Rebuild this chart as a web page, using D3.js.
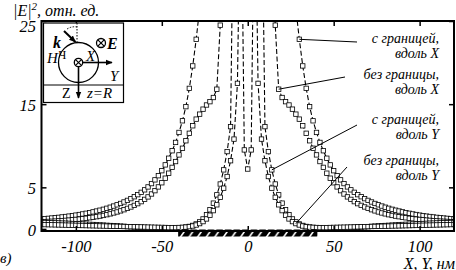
<!DOCTYPE html>
<html>
<head>
<meta charset="utf-8">
<script src="https://cdn.jsdelivr.net/npm/d3@7"></script>
<style>
  html, body { margin: 0; padding: 0; background: #fff; }
  svg { display: block; font-family: "Liberation Serif", "DejaVu Serif", serif; }
</style>
</head>
<body>
<div id="chart"></div>
<script>
// sample positions, nm
const xs = [-120,-118,-116,-114,-112,-110,-108,-106,-104,-102,-100,-98,-96,-94,-92,-90,-88,-86,-84,-82,
  -80,-78,-76,-74,-72,-70,-68,-66,-64,-62,-60,-58,-56,-54,-52,-50,-48,-46,-44,-42,
  -40,-38,-36,-34,-32,-30,-28,-26,-24,-22,-20,-18,-16,-14,-12,-10,-8,-6,-4,-2,
  0,2,4,6,8,10,12,14,16,18,20,22,24,26,28,30,32,34,36,38,
  40,42,44,46,48,50,52,54,56,58,60,62,64,66,68,70,72,74,76,78,
  80,82,84,86,88,90,92,94,96,98,100,102,104,106,108,110,112,114,116,118,120];

// |E|^2 with boundary, along X
const borderX = [1.2,1.23,1.27,1.31,1.35,1.39,1.44,1.49,1.54,1.6,1.66,1.73,1.8,1.88,1.96,2.05,2.15,2.25,2.36,2.48,
  2.61,2.75,2.9,3.06,3.24,3.43,3.64,3.87,4.12,4.4,4.7,5.05,5.45,5.9,6.4,7.0,7.7,8.5,9.4,10.4,
  11.6,13.0,14.7,16.9,19.6,22.8,26.5,31,36,42,48,54,58,60,60,60,60,60,60,60,
  60,60,60,60,60,60,60,60,58,54,48,42,36,31,26.5,22.8,19.6,16.9,14.7,13.0,
  11.6,10.4,9.4,8.5,7.7,7.0,6.4,5.9,5.45,5.05,4.7,4.4,4.12,3.87,3.64,3.43,3.24,3.06,2.9,2.75,
  2.61,2.48,2.36,2.25,2.15,2.05,1.96,1.88,1.8,1.73,1.66,1.6,1.54,1.49,1.44,1.39,1.35,1.31,1.27,1.23,1.2];

// without boundary, along X
const freeX = [0.86,0.88,0.9,0.92,0.94,0.97,1.0,1.03,1.06,1.1,1.14,1.18,1.23,1.28,1.34,1.4,1.47,1.54,1.62,1.71,
  1.81,1.92,2.04,2.17,2.31,2.47,2.64,2.83,3.04,3.28,3.55,3.85,4.2,4.6,5.05,5.55,6.1,6.7,7.4,8.1,
  8.9,9.7,10.6,11.5,12.4,13.2,13.8,14.4,14.9,15.3,15.8,16.8,24.5,36,60,60,60,60,60,60,
  60,60,60,60,60,60,60,36,24.5,16.8,15.8,15.3,14.9,14.4,13.8,13.2,12.4,11.5,10.6,9.7,
  8.9,8.1,7.4,6.7,6.1,5.55,5.05,4.6,4.2,3.85,3.55,3.28,3.04,2.83,2.64,2.47,2.31,2.17,2.04,1.92,
  1.81,1.71,1.62,1.54,1.47,1.4,1.34,1.28,1.23,1.18,1.14,1.1,1.06,1.03,1.0,0.97,0.94,0.92,0.9,0.88,0.86];

// with boundary, along Y
const borderY = [0.78,0.77,0.76,0.75,0.73,0.72,0.7,0.69,0.67,0.65,0.63,0.61,0.59,0.57,0.55,0.53,0.5,0.48,0.46,0.43,
  0.41,0.38,0.36,0.33,0.31,0.28,0.26,0.23,0.21,0.19,0.17,0.15,0.13,0.12,0.11,0.1,0.1,0.1,0.11,0.12,
  0.14,0.17,0.22,0.3,0.42,0.6,0.85,1.2,1.7,2.3,3.1,4.1,5.4,7.1,9.3,12.3,45,60,45,9.5,
  7.2,9.5,45,60,45,12.3,9.3,7.1,5.4,4.1,3.1,2.3,1.7,1.2,0.85,0.6,0.42,0.3,0.22,0.17,
  0.14,0.12,0.11,0.1,0.1,0.1,0.11,0.12,0.13,0.15,0.17,0.19,0.21,0.23,0.26,0.28,0.31,0.33,0.36,0.38,
  0.41,0.43,0.46,0.48,0.5,0.53,0.55,0.57,0.59,0.61,0.63,0.65,0.67,0.69,0.7,0.72,0.73,0.75,0.76,0.77,0.78];

// without boundary, along Y
const freeY = [0.53,0.52,0.51,0.5,0.49,0.48,0.47,0.46,0.45,0.44,0.43,0.42,0.41,0.4,0.39,0.38,0.37,0.36,0.35,0.34,
  0.33,0.32,0.31,0.3,0.29,0.28,0.27,0.26,0.25,0.24,0.23,0.22,0.21,0.2,0.19,0.18,0.17,0.16,0.16,0.16,
  0.17,0.19,0.22,0.27,0.35,0.47,0.64,0.88,1.2,1.65,2.2,2.9,3.8,4.9,6.3,8.2,10.8,17.5,45,60,
  60,60,45,17.5,10.8,8.2,6.3,4.9,3.8,2.9,2.2,1.65,1.2,0.88,0.64,0.47,0.35,0.27,0.22,0.19,
  0.17,0.16,0.16,0.16,0.17,0.18,0.19,0.2,0.21,0.22,0.23,0.24,0.25,0.26,0.27,0.28,0.29,0.3,0.31,0.32,
  0.33,0.34,0.35,0.36,0.37,0.38,0.39,0.4,0.41,0.42,0.43,0.44,0.45,0.46,0.47,0.48,0.49,0.5,0.51,0.52,0.53];

const xTicks = [-100, -50, 0, 50, 100];
const yTicks = [0, 5, 15, 25];
const substrate = [-40.5, 40.5];

// callouts: label lines, series, sample x where the leader touches
const callouts = [
  { lines: ["с границей,", "вдоль X"], series: borderX, at: 30, tx: 439, ty: 43, lx: 357, ly: 42 },
  { lines: ["без границы,", "вдоль X"], series: freeX, at: 18, tx: 439, ty: 79, lx: 345, ly: 77 },
  { lines: ["с границей,", "вдоль Y"], series: borderY, at: 14, tx: 439, ty: 124, lx: 357, ly: 125 },
  { lines: ["без границы,", "вдоль Y"], series: freeY, at: 28, tx: 439, ty: 165, lx: 347, ly: 167 }
];

[borderX, freeX, borderY, freeY].forEach((s, i) => {
  if (s.length !== xs.length) console.error("series", i, "length", s.length);
});

const width = 456, height = 270;
const plot = { left: 41.5, right: 454, top: 21, bottom: 231 };

const x = d3.scaleLinear().domain([-120, 120]).range([plot.left, plot.right]);
const y = d3.scaleLinear().domain([-0.25, 25]).range([plot.bottom, plot.top]);

const svg = d3.select("#chart").append("svg")
  .attr("width", width)
  .attr("height", height);

const defs = svg.append("defs");
defs.append("clipPath").attr("id", "plotClip")
  .append("rect")
  .attr("x", plot.left).attr("y", plot.top)
  .attr("width", plot.right - plot.left).attr("height", plot.bottom - plot.top);

const hatch = defs.append("pattern")
  .attr("id", "hatch")
  .attr("patternUnits", "userSpaceOnUse")
  .attr("x", x(substrate[0]))
  .attr("width", 8.6).attr("height", 7);
hatch.append("rect").attr("width", 8.6).attr("height", 7).attr("fill", "#000");
hatch.append("line")
  .attr("x1", 2).attr("y1", 6.5).attr("x2", 6.2).attr("y2", 0.5)
  .attr("stroke", "#fff").attr("stroke-width", 1.5);

// curves
const curves = svg.append("g").attr("clip-path", "url(#plotClip)");
const line = d3.line().x((d, i) => x(xs[i])).y(d => y(d));

[borderX, freeX, borderY, freeY].forEach(series => {
  curves.append("path")
    .datum(series)
    .attr("d", line)
    .attr("fill", "none")
    .attr("stroke", "#000")
    .attr("stroke-width", 1.1)
    .attr("stroke-dasharray", "5,2.5");
});

[borderX, freeX, borderY, freeY].forEach(series => {
  curves.append("g")
    .selectAll("rect")
    .data(series.map((v, i) => [xs[i], v]).filter(d => d[1] < 27))
    .enter().append("rect")
    .attr("x", d => x(d[0]) - 2.2)
    .attr("y", d => y(d[1]) - 2.2)
    .attr("width", 4.4)
    .attr("height", 4.4)
    .attr("fill", "#fff")
    .attr("stroke", "#000")
    .attr("stroke-width", 0.8);
});

// axes with inward ticks
const xAxis = svg.append("g")
  .attr("transform", `translate(0,${plot.bottom})`)
  .call(d3.axisBottom(x).tickValues(xTicks).tickSizeInner(-5).tickSizeOuter(0).tickPadding(9)
    .tickFormat(d => d < 0 ? "-" + Math.abs(d) : d));
const yAxis = svg.append("g")
  .attr("transform", `translate(${plot.left},0)`)
  .call(d3.axisLeft(y).tickValues(yTicks).tickSizeInner(-5).tickSizeOuter(0).tickPadding(5.5));
svg.append("g")
  .attr("transform", `translate(0,${plot.top})`)
  .call(d3.axisTop(x).tickValues(xTicks).tickSizeInner(-5).tickSizeOuter(0).tickFormat(""));
svg.append("g")
  .attr("transform", `translate(${plot.right},0)`)
  .call(d3.axisRight(y).tickValues([5, 15, 25]).tickSizeInner(-5).tickSizeOuter(0).tickFormat(""));

svg.selectAll(".domain").remove();
svg.selectAll(".tick line").attr("stroke", "#000").attr("stroke-width", 1.5);
[xAxis, yAxis].forEach(a => a
  .attr("font-family", "'Liberation Serif', serif")
  .attr("font-size", 16.5)
  .selectAll(".tick text")
  .attr("fill", "#000")
  .style("font-style", "italic"));
yAxis.selectAll(".tick text").filter(d => d === 25).attr("dy", "0.62em");
yAxis.selectAll(".tick text").filter(d => d !== 25).attr("dy", "0.4em");

// hatched substrate
svg.append("rect")
  .attr("x", x(substrate[0]))
  .attr("y", 229.5)
  .attr("width", x(substrate[1]) - x(substrate[0]))
  .attr("height", 7)
  .attr("fill", "url(#hatch)");

// frame
svg.append("rect")
  .attr("x", plot.left).attr("y", plot.top)
  .attr("width", plot.right - plot.left).attr("height", plot.bottom - plot.top)
  .attr("fill", "none").attr("stroke", "#000").attr("stroke-width", 2);

// callouts
callouts.forEach(c => {
  const i = xs.indexOf(c.at);
  svg.append("line")
    .attr("x1", c.lx).attr("y1", c.ly)
    .attr("x2", x(c.at)).attr("y2", y(c.series[i]))
    .attr("stroke", "#000").attr("stroke-width", 1);
  c.lines.forEach((s, k) => {
    svg.append("text")
      .attr("x", c.tx).attr("y", c.ty + k * 14.5)
      .attr("text-anchor", "end")
      .style("font-style", "italic")
      .style("font-size", "14px")
      .text(s);
  });
});

// axis titles
const yTitle = svg.append("text")
  .attr("x", 13).attr("y", 16)
  .style("font-style", "italic")
  .style("font-size", "16px");
yTitle.append("tspan").text("|E|");
yTitle.append("tspan").attr("dy", -6).style("font-size", "11px").text("2");
yTitle.append("tspan").attr("dy", 6).text(", отн. ед.");

svg.append("text")
  .attr("x", 455).attr("y", 268.5)
  .attr("text-anchor", "end")
  .style("font-style", "italic")
  .style("font-size", "16px")
  .text("X, Y, нм");

svg.append("text")
  .attr("x", 0).attr("y", 263)
  .style("font-style", "italic")
  .style("font-size", "15px")
  .text("в)");

// inset sketch
const ins = svg.append("g");
ins.append("rect")
  .attr("x", 43.5).attr("y", 23).attr("width", 80).attr("height", 79.5)
  .attr("fill", "#fff").attr("stroke", "#000").attr("stroke-width", 1.2);
ins.append("line")
  .attr("x1", 43.5).attr("y1", 85).attr("x2", 123.5).attr("y2", 85)
  .attr("stroke", "#000").attr("stroke-width", 1);
ins.append("circle")
  .attr("cx", 78.5).attr("cy", 62.5).attr("r", 20)
  .attr("fill", "none").attr("stroke", "#000").attr("stroke-width", 1.3);

defs.append("marker")
  .attr("id", "arrow")
  .attr("viewBox", "0 0 10 10")
  .attr("refX", 9).attr("refY", 5)
  .attr("markerWidth", 7).attr("markerHeight", 7)
  .attr("markerUnits", "userSpaceOnUse")
  .attr("orient", "auto")
  .append("path").attr("d", "M0,1 L10,5 L0,9 Z").attr("fill", "#000");

ins.append("line")
  .attr("x1", 83).attr("y1", 62.5).attr("x2", 112).attr("y2", 62.5)
  .attr("stroke", "#000").attr("stroke-width", 1.6).attr("marker-end", "url(#arrow)");
ins.append("line")
  .attr("x1", 78.5).attr("y1", 67).attr("x2", 78.5).attr("y2", 98)
  .attr("stroke", "#000").attr("stroke-width", 1.6).attr("marker-end", "url(#arrow)");
ins.append("line")
  .attr("x1", 77).attr("y1", 23).attr("x2", 77).attr("y2", 44)
  .attr("stroke", "#000").attr("stroke-width", 1).attr("stroke-dasharray", "1.5,1.5");
ins.append("path")
  .attr("d", "M67,29 Q72,26 77,27")
  .attr("fill", "none").attr("stroke", "#000").attr("stroke-width", 1).attr("stroke-dasharray", "1.5,1.5");
ins.append("line")
  .attr("x1", 64).attr("y1", 31).attr("x2", 75.5).attr("y2", 42)
  .attr("stroke", "#000").attr("stroke-width", 2).attr("marker-end", "url(#arrow)");

function crossMark(cx, cy, r) {
  ins.append("circle").attr("cx", cx).attr("cy", cy).attr("r", r)
    .attr("fill", "#fff").attr("stroke", "#000").attr("stroke-width", 1.3);
  const d = r * 0.7;
  ins.append("path")
    .attr("d", `M${cx - d},${cy - d}L${cx + d},${cy + d}M${cx - d},${cy + d}L${cx + d},${cy - d}`)
    .attr("stroke", "#000").attr("stroke-width", 1.2);
}
crossMark(78.5, 62.5, 4.2);
crossMark(101, 43, 4.5);

const insText = (tx, ty, s, opts = {}) => ins.append("text")
  .attr("x", tx).attr("y", ty)
  .style("font-style", opts.upright ? "normal" : "italic")
  .style("font-weight", opts.bold ? "bold" : "normal")
  .style("font-size", (opts.size || 14) + "px")
  .text(s);

insText(53, 48, "k", { bold: true, size: 16 });
insText(107, 48.5, "E", { bold: true, size: 16 });
insText(47, 63, "Н", { size: 15 });
insText(58.5, 59, "Ч", { upright: true, size: 12 });
insText(86, 61, "X", { size: 15 });
insText(110, 81, "Y", { size: 15 });
insText(62, 97.5, "Z", { upright: true, size: 14 });
insText(87, 97.5, "z=R", { size: 15 });
</script>
</body>
</html>
